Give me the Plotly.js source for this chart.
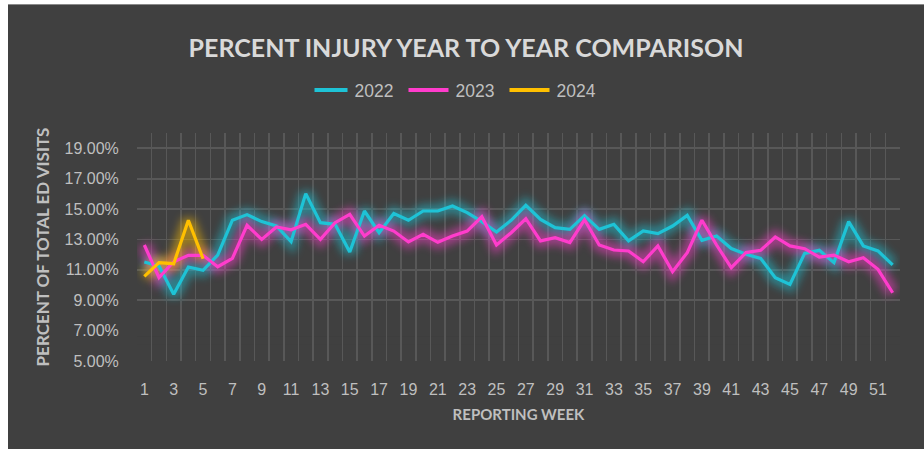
<!DOCTYPE html>
<html>
<head>
<meta charset="utf-8">
<script src="https://cdn.plot.ly/plotly-3.0.1.min.js"></script>
<style>
  html, body { margin: 0; padding: 0; background: #ffffff; }
  #frame { position: absolute; left: 8px; top: 4px; width: 916px; height: 445px; background: #404040; border-top: 1px solid #8a8a8a; }
  #chart { width: 916px; height: 444px; }
</style>
</head>
<body>
<div id="frame"><div id="chart"></div></div>
<script>
const weeks = [1,2,3,4,5,6,7,8,9,10,11,12,13,14,15,16,17,18,19,20,21,22,23,24,25,26,
               27,28,29,30,31,32,33,34,35,36,37,38,39,40,41,42,43,44,45,46,47,48,49,50,51,52];
const weekTicks = [1,3,5,7,9,11,13,15,17,19,21,23,25,27,29,31,33,35,37,39,41,43,45,47,49,51];
const pct2022 = [11.51,11.25,9.39,11.18,10.97,11.97,14.26,14.63,14.17,13.88,12.85,16.01,14.10,13.99,12.17,14.87,
                 13.44,14.70,14.26,14.87,14.87,15.20,14.76,14.17,13.49,14.26,15.24,14.32,13.77,13.66,14.56,13.66,
                 13.99,12.90,13.55,13.38,13.88,14.58,12.94,13.22,12.40,12.02,11.75,10.48,10.04,12.08,12.28,11.47,
                 14.17,12.57,12.24,11.32];
const pct2023 = [12.63,10.48,11.53,11.95,11.95,11.20,11.75,13.93,13.00,13.82,13.63,13.99,13.00,14.10,14.65,13.22,
                 13.93,13.55,12.83,13.33,12.81,13.22,13.55,14.49,12.63,13.44,14.36,12.90,13.11,12.79,14.29,12.63,
                 12.30,12.24,11.53,12.57,10.88,12.13,14.26,12.63,11.14,12.13,12.28,13.16,12.57,12.39,11.84,11.97,
                 11.53,11.80,11.03,9.49];
const pct2024 = [10.57,11.47,11.40,14.26,11.73];
const seriesNames = ['2022','2023','2024'];
const yTicks = [5,7,9,11,13,15,17,19];
const yGridTicks = [9,11,13,15,17,19];

const series = [pct2022, pct2023, pct2024];
const colors = ['#1ec3d6', '#ff3ccc', '#ffc000'];

const glowTraces = series.map((vals, i) => ({
  x: weeks.slice(0, vals.length), y: vals, type: 'scatter', mode: 'lines',
  line: {color: colors[i], width: 13}, opacity: 0.5, showlegend: false, hoverinfo: 'skip'
}));
const mainTraces = series.map((vals, i) => ({
  x: weeks.slice(0, vals.length), y: vals, type: 'scatter', mode: 'lines', name: seriesNames[i],
  line: {color: colors[i], width: 3.2}
}));
// invisible trace to activate the grid-only axis
const gridTrace = {x: [weeks[0]], y: [yGridTicks[0]], yaxis: 'y2', mode: 'markers',
  marker: {opacity: 0}, showlegend: false, hoverinfo: 'skip'};

const tickFont = {family: 'Liberation Sans, Arial, sans-serif', size: 16, color: '#bfbfbf'};
const bg = '#404040';

const layout = {
  width: 916, height: 444,
  paper_bgcolor: bg, plot_bgcolor: bg,
  margin: {l: 129, r: 24, t: 128, b: 88},
  title: {text: 'PERCENT INJURY YEAR TO YEAR COMPARISON', xref: 'container', x: 0.5, xanchor: 'center',
          yref: 'container', y: 0.903, yanchor: 'middle',
          font: {family: 'Lato, sans-serif', size: 25, color: '#d9d9d9', weight: 'bold'}},
  showlegend: true,
  legend: {orientation: 'h', xref: 'container', yref: 'container', x: 0.5, xanchor: 'center', y: 0.808, yanchor: 'middle',
           font: {family: 'Liberation Sans, Arial, sans-serif', size: 17.5, color: '#bfbfbf'},
           bgcolor: 'rgba(0,0,0,0)', traceorder: 'normal', entrywidth: 56, entrywidthmode: 'pixels'},
  xaxis: {range: [0.5, 52.5], tickmode: 'array', tickvals: weekTicks, ticktext: weekTicks.map(String),
          showgrid: false, zeroline: false, showline: false,
          ticks: 'outside', ticklen: 14, tickcolor: 'rgba(0,0,0,0)', tickfont: tickFont, tickangle: 0,
          minor: {tickmode: 'linear', tick0: 0.5, dtick: 1, showgrid: true, gridcolor: '#585858', gridwidth: 1.6, ticklen: 0},
          title: {text: 'REPORTING WEEK', standoff: 12,
                  font: {family: 'Lato, sans-serif', size: 15, color: '#bfbfbf', weight: 'bold'}}},
  yaxis: {range: [5, 20], tickmode: 'array', tickvals: yTicks, ticktext: yTicks.map(v => v.toFixed(2) + '%'),
          showgrid: false, zeroline: false, showline: false,
          ticks: 'outside', ticklen: 14, tickcolor: 'rgba(0,0,0,0)', tickfont: tickFont,
          title: {text: 'PERCENT OF TOTAL ED VISITS', standoff: 10,
                  font: {family: 'Lato, sans-serif', size: 17, color: '#bfbfbf', weight: 'bold'}}},
  yaxis2: {overlaying: 'y', range: [5, 20], tickmode: 'array', tickvals: yGridTicks, showticklabels: false,
           showgrid: true, gridcolor: '#585858', gridwidth: 1.8, zeroline: false, showline: false, ticks: ''},
  shapes: [
    {type: 'rect', xref: 'paper', yref: 'y', x0: 0, x1: 1, y0: 5, y1: 6.1, fillcolor: bg, line: {width: 0}, layer: 'between'},
    {type: 'rect', xref: 'paper', yref: 'y', x0: 0, x1: 1, y0: 6.1, y1: 6.6, fillcolor: bg, opacity: 0.7, line: {width: 0}, layer: 'between'},
    {type: 'rect', xref: 'paper', yref: 'y', x0: 0, x1: 1, y0: 6.6, y1: 7.1, fillcolor: bg, opacity: 0.45, line: {width: 0}, layer: 'between'}
  ]
};

Plotly.newPlot('chart', [gridTrace, ...glowTraces, ...mainTraces], layout, {displayModeBar: false, staticPlot: true}).then(gd => {
  const svg = gd.querySelector('svg.main-svg');
  const ns = 'http://www.w3.org/2000/svg';
  let defs = svg.querySelector('defs');
  if (!defs) { defs = document.createElementNS(ns, 'defs'); svg.insertBefore(defs, svg.firstChild); }
  const f = document.createElementNS(ns, 'filter');
  f.setAttribute('id', 'glowblur');
  f.setAttribute('filterUnits', 'userSpaceOnUse');
  f.setAttribute('x', '0'); f.setAttribute('y', '0');
  f.setAttribute('width', '916'); f.setAttribute('height', '444');
  const b = document.createElementNS(ns, 'feGaussianBlur');
  b.setAttribute('stdDeviation', '4.5');
  f.appendChild(b);
  defs.appendChild(f);
  gd.querySelectorAll('.scatterlayer .trace').forEach(g => {
    const p = g.querySelector('path.js-line');
    if (p && parseFloat(p.style.strokeWidth) >= 10) {
      p.setAttribute('filter', 'url(#glowblur)');
    }
  });
  // lengthen legend line symbols to match the reference
  gd.querySelectorAll('.legend .legendlines path').forEach(p => {
    p.setAttribute('d', 'M-7,0h40');
    p.style.strokeWidth = '4px';
  });
});
</script>
</body>
</html>
